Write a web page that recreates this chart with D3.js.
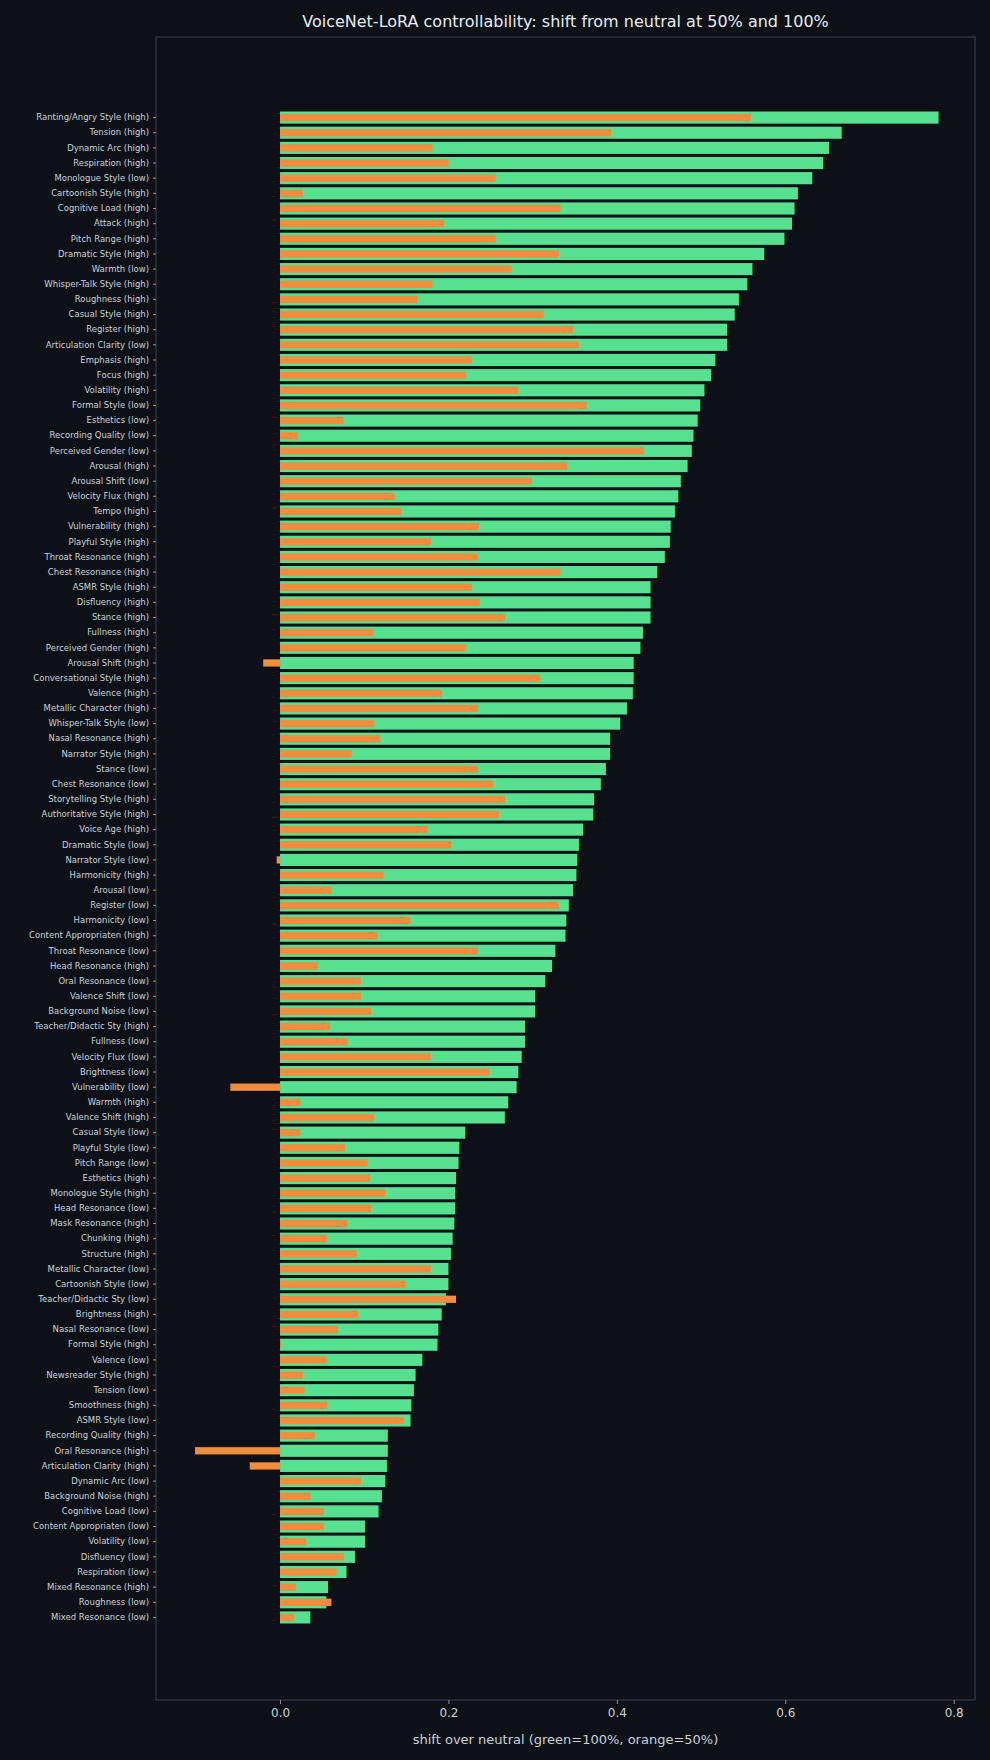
<!DOCTYPE html>
<html><head><meta charset="utf-8">
<script src="https://cdn.jsdelivr.net/npm/d3@7"></script>
<style>body{margin:0;background:#0d1117;}</style>
</head><body><div id="app"></div>
<script>
const labels = ["Ranting/Angry Style (high)","Tension (high)","Dynamic Arc (high)","Respiration (high)","Monologue Style (low)","Cartoonish Style (high)","Cognitive Load (high)","Attack (high)","Pitch Range (high)","Dramatic Style (high)","Warmth (low)","Whisper-Talk Style (high)","Roughness (high)","Casual Style (high)","Register (high)","Articulation Clarity (low)","Emphasis (high)","Focus (high)","Volatility (high)","Formal Style (low)","Esthetics (low)","Recording Quality (low)","Perceived Gender (low)","Arousal (high)","Arousal Shift (low)","Velocity Flux (high)","Tempo (high)","Vulnerability (high)","Playful Style (high)","Throat Resonance (high)","Chest Resonance (high)","ASMR Style (high)","Disfluency (high)","Stance (high)","Fullness (high)","Perceived Gender (high)","Arousal Shift (high)","Conversational Style (high)","Valence (high)","Metallic Character (high)","Whisper-Talk Style (low)","Nasal Resonance (high)","Narrator Style (high)","Stance (low)","Chest Resonance (low)","Storytelling Style (high)","Authoritative Style (high)","Voice Age (high)","Dramatic Style (low)","Narrator Style (low)","Harmonicity (high)","Arousal (low)","Register (low)","Harmonicity (low)","Content Appropriaten (high)","Throat Resonance (low)","Head Resonance (high)","Oral Resonance (low)","Valence Shift (low)","Background Noise (low)","Teacher/Didactic Sty (high)","Fullness (low)","Velocity Flux (low)","Brightness (low)","Vulnerability (low)","Warmth (high)","Valence Shift (high)","Casual Style (low)","Playful Style (low)","Pitch Range (low)","Esthetics (high)","Monologue Style (high)","Head Resonance (low)","Mask Resonance (high)","Chunking (high)","Structure (high)","Metallic Character (low)","Cartoonish Style (low)","Teacher/Didactic Sty (low)","Brightness (high)","Nasal Resonance (low)","Formal Style (high)","Valence (low)","Newsreader Style (high)","Tension (low)","Smoothness (high)","ASMR Style (low)","Recording Quality (high)","Oral Resonance (high)","Articulation Clarity (high)","Dynamic Arc (low)","Background Noise (high)","Cognitive Load (low)","Content Appropriaten (low)","Volatility (low)","Disfluency (low)","Respiration (low)","Mixed Resonance (high)","Roughness (low)","Mixed Resonance (low)"];
const shift100 = [0.782,0.667,0.652,0.645,0.632,0.615,0.611,0.608,0.599,0.575,0.561,0.555,0.545,0.54,0.531,0.531,0.517,0.512,0.504,0.499,0.496,0.491,0.489,0.484,0.476,0.473,0.469,0.464,0.463,0.457,0.448,0.44,0.44,0.44,0.431,0.428,0.42,0.42,0.419,0.412,0.404,0.392,0.392,0.387,0.381,0.373,0.372,0.36,0.355,0.353,0.352,0.348,0.343,0.34,0.339,0.327,0.323,0.315,0.303,0.303,0.291,0.291,0.287,0.283,0.281,0.271,0.267,0.22,0.213,0.212,0.209,0.208,0.208,0.207,0.205,0.203,0.2,0.2,0.197,0.192,0.188,0.187,0.169,0.161,0.159,0.156,0.155,0.128,0.128,0.127,0.125,0.121,0.117,0.101,0.101,0.089,0.079,0.057,0.055,0.036];
const shift50 = [0.559,0.393,0.181,0.2,0.256,0.027,0.333,0.195,0.256,0.331,0.275,0.181,0.163,0.313,0.348,0.355,0.228,0.221,0.283,0.364,0.075,0.021,0.432,0.341,0.299,0.136,0.144,0.236,0.179,0.235,0.333,0.228,0.237,0.267,0.111,0.221,-0.02,0.309,0.192,0.235,0.112,0.119,0.085,0.235,0.253,0.267,0.26,0.175,0.203,-0.004,0.123,0.061,0.331,0.155,0.116,0.235,0.045,0.096,0.096,0.108,0.059,0.08,0.179,0.249,-0.059,0.024,0.112,0.024,0.077,0.104,0.107,0.125,0.108,0.08,0.056,0.091,0.179,0.149,0.209,0.093,0.069,0.001,0.055,0.027,0.029,0.056,0.147,0.041,-0.101,-0.036,0.096,0.036,0.052,0.052,0.031,0.076,0.067,0.019,0.061,0.017];
const xTicks = [0.0,0.2,0.4,0.6,0.8];

const W = 990, H = 1760;
const mLeft = 156, mRight = 975, mTop = 37, mBottom = 1700;
const txt = "#c9d1d9", font = "DejaVu Sans, sans-serif";

const svg = d3.select("#app").append("svg").attr("width", W).attr("height", H)
    .style("background", "#0d1117");

const x = d3.scaleLinear().domain([-0.1473, 0.8253]).range([mLeft, mRight]);
const y = d3.scaleBand().domain(labels).range([110, 1625]).paddingInner(0.2).paddingOuter(0.1);

svg.append("rect").attr("x", mLeft).attr("y", mTop).attr("width", mRight - mLeft).attr("height", mBottom - mTop)
    .attr("fill", "none").attr("stroke", "#3d434b").attr("stroke-width", 1);

const rows = labels.map((l, i) => ({ l, a: shift100[i], b: shift50[i] }));

svg.selectAll("rect.g").data(rows).enter().append("rect").attr("class", "g")
    .attr("x", d => x(Math.min(0, d.a))).attr("width", d => Math.abs(x(d.a) - x(0)))
    .attr("y", d => y(d.l)).attr("height", y.bandwidth()).attr("fill", "#56e08f");

const oh = y.bandwidth() * 0.6;
svg.selectAll("rect.o").data(rows).enter().append("rect").attr("class", "o")
    .attr("x", d => x(Math.min(0, d.b))).attr("width", d => Math.abs(x(d.b) - x(0)))
    .attr("y", d => y(d.l) + (y.bandwidth() - oh) / 2).attr("height", oh).attr("fill", "#f28c3e");

const yAxis = svg.append("g").attr("transform", `translate(${mLeft},0)`)
    .call(d3.axisLeft(y).tickSize(3).tickPadding(4));
yAxis.select(".domain").remove();
yAxis.selectAll("line").attr("stroke", "#8b949e");
yAxis.selectAll("text").attr("fill", txt).attr("font-size", 8.5).attr("font-family", font);

const xAxis = svg.append("g").attr("transform", `translate(0,${mBottom})`)
    .call(d3.axisBottom(x).tickValues(xTicks).tickFormat(d3.format(".1f")).tickSize(4).tickPadding(4));
xAxis.select(".domain").remove();
xAxis.selectAll("line").attr("stroke", "#8b949e");
xAxis.selectAll("text").attr("fill", txt).attr("font-size", 12).attr("font-family", font);

svg.append("text").attr("x", (mLeft + mRight) / 2).attr("y", 27).attr("text-anchor", "middle")
    .attr("fill", "#e6edf3").attr("font-size", 16).attr("font-family", font)
    .text("VoiceNet-LoRA controllability: shift from neutral at 50% and 100%");

svg.append("text").attr("x", (mLeft + mRight) / 2).attr("y", 1744).attr("text-anchor", "middle")
    .attr("fill", txt).attr("font-size", 13).attr("font-family", font)
    .text("shift over neutral (green=100%, orange=50%)");
</script></body></html>
